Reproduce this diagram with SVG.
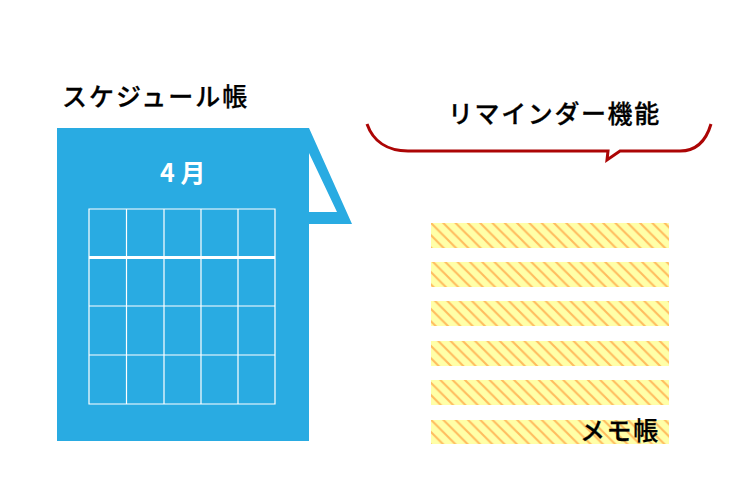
<svg xmlns="http://www.w3.org/2000/svg" width="750" height="500" viewBox="0 0 750 500">
<style>
.t{font-family:"Noto Sans CJK JP","Liberation Sans",sans-serif;font-weight:500;font-size:25px;letter-spacing:1.6px;fill:#000;stroke:#000;stroke-width:.3px}
.g{stroke:#fff;stroke-width:1.2;fill:none}
.b{fill:url(#st)}
</style>
<defs>
<pattern id="st" width="12.3" height="12.3" patternUnits="userSpaceOnUse" patternTransform="translate(431 223)">
<rect width="12.3" height="12.3" fill="#ffffa8"/>
<path d="M-3-3L15.300 15.300M-3 9.300L3 15.300M9.300-3L15.300 3" stroke="#ffbc5e" stroke-width="2.100" fill="none"/>
</pattern>
</defs>
<g id="schedule">
<path d="M57 128H309L352 224H309V441H57Z M309 153V212H337Z" fill="#29abe2" fill-rule="evenodd"/>
<text class="t" x="62" y="106" style="letter-spacing:2px">スケジュール帳</text>
<text x="160" y="182" font-family="'Noto Sans CJK JP','Liberation Sans',sans-serif" font-weight="700" font-size="25" fill="#fff" xml:space="preserve">4 月</text>
<path class="g" d="M89 209H275V404H89ZM126.500 209V404M164 209V404M201 209V404M238 209V404M89 306H275M89 355H275"/>
<path d="M89 257.500H275" stroke="#fff" stroke-width="3.200"/>
</g>
<g id="reminder">
<text class="t" x="448" y="123">リマインダー機能</text>
<path d="M367 124C373 141 387 151 408 151H608L607 160L620 151H680C696 151 706 141 711 124" fill="none" stroke="#ac0505" stroke-width="3"/>
</g>
<g id="memo">
<rect class="b" x="431" y="223" width="238" height="25"/>
<rect class="b" x="431" y="262" width="238" height="25"/>
<rect class="b" x="431" y="301" width="238" height="25"/>
<rect class="b" x="431" y="341" width="238" height="25"/>
<rect class="b" x="431" y="380" width="238" height="25"/>
<rect class="b" x="431" y="420" width="238" height="24"/>
<text class="t" x="580" y="440">メモ帳</text>
</g>
</svg>
